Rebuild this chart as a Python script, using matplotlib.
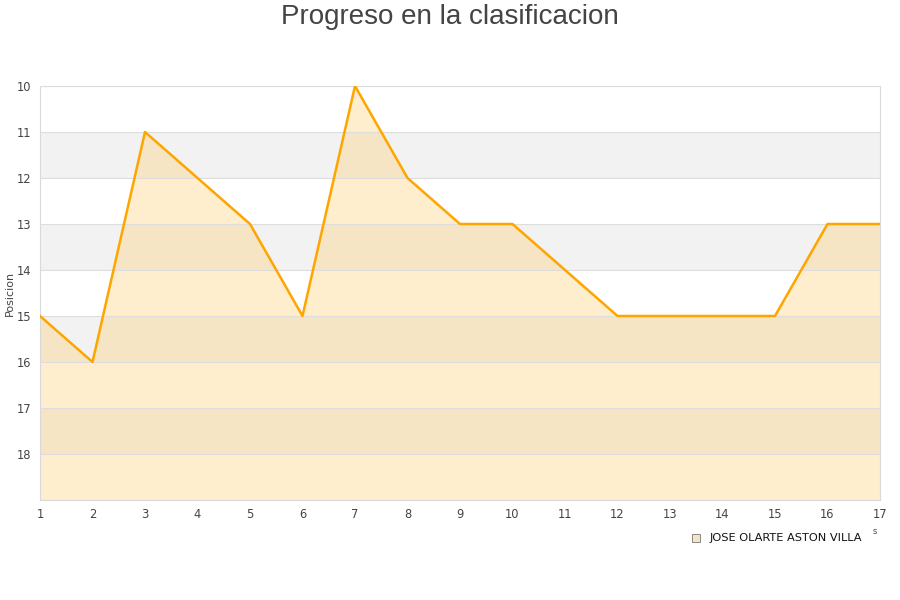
import matplotlib
matplotlib.use("Agg")
import matplotlib.pyplot as plt

# Jornada vs posicion en la tabla
jornadas = list(range(1, 18))
posiciones = [15, 16, 11, 12, 13, 15, 10, 12, 13, 13, 14, 15, 15, 15, 15, 13, 13]
y_ticks = [10, 11, 12, 13, 14, 15, 16, 17, 18]
equipo = "JOSE OLARTE ASTON VILLA"
titulo = "Progreso en la clasificacion"

fig = plt.figure(figsize=(9, 6), dpi=100)
ax = fig.add_axes([40 / 900, 1 - 500 / 600, 840 / 900, 414 / 600])

# Alternating bands
for y0 in range(11, 19, 2):
    ax.axhspan(y0, y0 + 1, color="#f2f2f2", zorder=0, lw=0)

ax.fill_between(jornadas, posiciones, 19, color="#ffc34d", alpha=0.27,
                lw=0, zorder=1)
ax.plot(jornadas, posiciones, color="#ffa500", lw=1.8, zorder=3)

ax.set_xlim(1, 17)
ax.set_ylim(19, 10)
ax.set_xticks(jornadas)
ax.set_yticks(y_ticks)
ax.grid(axis="y", color="#dddddd", lw=0.8, zorder=2)
ax.set_axisbelow(False)
ax.tick_params(axis="y", length=0, labelsize=8.3, colors="#444444", pad=6.5)
ax.tick_params(axis="x", length=0, labelsize=8.3, colors="#444444", pad=6)
for s in ax.spines.values():
    s.set_color("#d9d9d9")
ax.set_ylabel("Posicion", fontsize=8, color="#444444")
ax.yaxis.set_label_coords(-0.03, 0.5)

fig.text(0.5, 1 - 17 / 600, titulo, ha="center", va="center", fontsize=20,
         family="Liberation Sans", color="#444444")

# Legend
fig.patches.append(plt.Rectangle((692 / 900, 1 - 542 / 600), 8 / 900, 8 / 600,
                                 transform=fig.transFigure, facecolor="#f5e3c3",
                                 edgecolor="#777777", lw=0.6))
fig.text(710 / 900, 1 - 538 / 600, equipo, fontsize=8.2, va="center",
         color="#111111")
fig.text(873 / 900, 1 - 532 / 600, "s", fontsize=6, va="center",
         color="#444444")

fig.savefig("out.png", dpi=100)
